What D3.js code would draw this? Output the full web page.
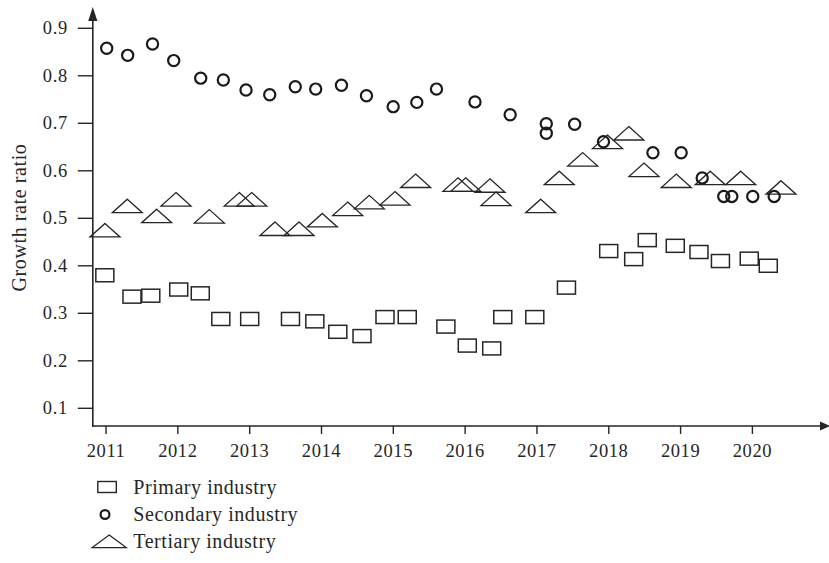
<!DOCTYPE html>
<html>
<head>
<meta charset="utf-8">
<script src="https://cdn.jsdelivr.net/npm/d3@7"></script>
<style>
  html, body { margin: 0; padding: 0; background: #fff; }
  svg { display: block; }
  text { font-family: "Liberation Serif", "DejaVu Serif", serif; fill: #262626; }
</style>
</head>
<body>
<svg id="chart" width="829" height="563"></svg>
<script>
// Growth rate ratio by industry, sampled through 2011–2020
const yearTicks = [2011, 2012, 2013, 2014, 2015, 2016, 2017, 2018, 2019, 2020];
const ratioTicks = [0.1, 0.2, 0.3, 0.4, 0.5, 0.6, 0.7, 0.8, 0.9];

const primaryYears = [2010.990, 2011.368, 2011.630, 2012.019, 2012.319, 2012.605, 2013.007, 2013.575, 2013.914, 2014.234, 2014.571, 2014.891, 2015.201, 2015.739, 2016.037, 2016.377, 2016.531, 2016.977, 2017.418, 2018.006, 2018.354, 2018.543, 2018.933, 2019.263, 2019.562, 2019.963, 2020.228];
const primaryValues = [0.379, 0.334, 0.336, 0.349, 0.341, 0.287, 0.287, 0.287, 0.282, 0.260, 0.251, 0.291, 0.291, 0.271, 0.231, 0.225, 0.291, 0.291, 0.353, 0.430, 0.413, 0.453, 0.441, 0.428, 0.409, 0.414, 0.399];

const secondaryYears = [2011.016, 2011.308, 2011.654, 2011.949, 2012.325, 2012.640, 2012.956, 2013.286, 2013.642, 2013.926, 2014.285, 2014.633, 2015.005, 2015.334, 2015.608, 2016.144, 2016.634, 2017.137, 2017.137, 2017.532, 2017.933, 2018.622, 2019.015, 2019.308, 2019.608, 2019.720, 2020.012, 2020.310];
const secondaryValues = [0.857, 0.842, 0.866, 0.831, 0.794, 0.790, 0.769, 0.759, 0.776, 0.771, 0.779, 0.757, 0.734, 0.743, 0.771, 0.744, 0.717, 0.698, 0.678, 0.697, 0.660, 0.637, 0.637, 0.584, 0.545, 0.545, 0.545, 0.545];

const tertiaryYears = [2010.992, 2011.303, 2011.712, 2011.981, 2012.445, 2012.862, 2013.035, 2013.359, 2013.694, 2014.018, 2014.372, 2014.672, 2015.030, 2015.318, 2015.907, 2016.015, 2016.353, 2016.437, 2017.059, 2017.318, 2017.644, 2017.989, 2018.286, 2018.497, 2018.947, 2019.420, 2019.844, 2020.405];
const tertiaryValues = [0.474, 0.525, 0.504, 0.539, 0.503, 0.539, 0.539, 0.477, 0.477, 0.495, 0.519, 0.533, 0.541, 0.578, 0.570, 0.570, 0.568, 0.540, 0.525, 0.584, 0.623, 0.660, 0.678, 0.601, 0.578, 0.584, 0.584, 0.564];

const seriesNames = ["Primary industry", "Secondary industry", "Tertiary industry"];
const yTitle = "Growth rate ratio";

const svg = d3.select("#chart");
const ink = "#262626";

// frame
const axisLeftX = 92.8, axisBottomY = 426, axisRightX = 830, axisTopY = 7;

const x = d3.scaleLinear().domain([2011, 2020]).range([105.55, 751.9]);
const y = d3.scaleLinear().domain([0.1, 0.9]).range([407.8, 27.8]);

// axis lines with arrow heads
svg.append("line")
  .attr("x1", axisLeftX).attr("x2", axisLeftX)
  .attr("y1", axisBottomY + 0.7).attr("y2", axisTopY + 10)
  .attr("stroke", ink).attr("stroke-width", 1.6);
svg.append("path")
  .attr("d", `M${axisLeftX},${axisTopY} L${axisLeftX - 4.6},${axisTopY + 14} L${axisLeftX + 4.6},${axisTopY + 14} Z`)
  .attr("fill", ink);

svg.append("line")
  .attr("x1", axisLeftX - 0.8).attr("x2", axisRightX - 8)
  .attr("y1", axisBottomY).attr("y2", axisBottomY)
  .attr("stroke", ink).attr("stroke-width", 1.6);
svg.append("path")
  .attr("d", `M${axisRightX},${axisBottomY} L${axisRightX - 10},${axisBottomY - 4.5} L${axisRightX - 10},${axisBottomY + 4.5} Z`)
  .attr("fill", ink);

// x axis ticks and labels
const gx = svg.append("g")
  .attr("transform", `translate(0,${axisBottomY})`)
  .call(d3.axisBottom(x).tickValues(yearTicks).tickSize(8).tickPadding(9.5).tickFormat(d3.format("d")));
gx.select(".domain").remove();
gx.selectAll(".tick line").attr("stroke", ink).attr("stroke-width", 1.4);
gx.selectAll(".tick text")
  .attr("font-family", "Liberation Serif, serif")
  .attr("font-size", 18.5).attr("letter-spacing", 0.6).attr("fill", ink);

// y axis ticks and labels
const gy = svg.append("g")
  .attr("transform", `translate(${axisLeftX},0)`)
  .call(d3.axisLeft(y).tickValues(ratioTicks).tickSize(15).tickPadding(10).tickFormat(d3.format(".1f")));
gy.select(".domain").remove();
gy.selectAll(".tick line").attr("stroke", ink).attr("stroke-width", 1.4);
gy.selectAll(".tick text")
  .attr("font-family", "Liberation Serif, serif")
  .attr("font-size", 18.5).attr("letter-spacing", 0.6).attr("fill", ink);

// y axis title
svg.append("text")
  .attr("transform", "translate(26,217.5) rotate(-90)")
  .attr("text-anchor", "middle")
  .attr("font-size", 20).attr("letter-spacing", 0.6)
  .text(yTitle);

// marker shapes
const triPath = (w, h) => `M0,${-h / 2} L${w / 2},${h / 2} L${-w / 2},${h / 2} Z`;

const zipSeries = (xs, vs) => xs.map((d, i) => ({ year: d, value: vs[i] }));
const primary = zipSeries(primaryYears, primaryValues);
const secondary = zipSeries(secondaryYears, secondaryValues);
const tertiary = zipSeries(tertiaryYears, tertiaryValues);

const marks = svg.append("g");

marks.append("g").selectAll("path")
  .data(tertiary).join("path")
  .attr("transform", d => `translate(${x(d.year)},${y(d.value)})`)
  .attr("d", triPath(30, 13.5))
  .attr("fill", "none").attr("stroke", ink).attr("stroke-width", 1.3)
  .attr("stroke-linejoin", "miter");

marks.append("g").selectAll("rect")
  .data(primary).join("rect")
  .attr("x", d => x(d.year) - 9).attr("y", d => y(d.value) - 6.5)
  .attr("width", 18).attr("height", 13)
  .attr("fill", "none").attr("stroke", ink).attr("stroke-width", 1.5);

marks.append("g").selectAll("circle")
  .data(secondary).join("circle")
  .attr("cx", d => x(d.year)).attr("cy", d => y(d.value))
  .attr("r", 5.6)
  .attr("fill", "none").attr("stroke", "#1a1a1a").attr("stroke-width", 2.2);

// legend
const legend = svg.append("g");
const legendRows = [494, 521, 548];
legend.append("rect")
  .attr("x", 97.8).attr("y", 481.5).attr("width", 18.5).attr("height", 11)
  .attr("fill", "none").attr("stroke", ink).attr("stroke-width", 1.4);
legend.append("circle")
  .attr("cx", 105).attr("cy", 514.5).attr("r", 4.4)
  .attr("fill", "none").attr("stroke", "#1a1a1a").attr("stroke-width", 2.2);
legend.append("path")
  .attr("transform", "translate(109.2,541.3)")
  .attr("d", triPath(34, 12.6))
  .attr("fill", "none").attr("stroke", ink).attr("stroke-width", 1.3);

legend.selectAll("text")
  .data(seriesNames).join("text")
  .attr("x", 133.3)
  .attr("y", (d, i) => legendRows[i])
  .attr("font-size", 20).attr("letter-spacing", 0.55)
  .text(d => d);
</script>
</body>
</html>
